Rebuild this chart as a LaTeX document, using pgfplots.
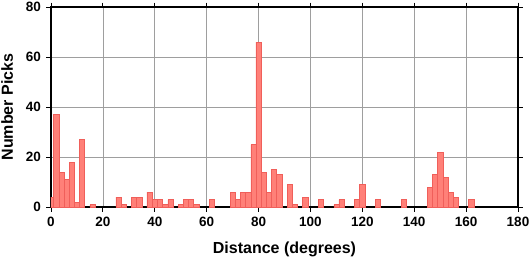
\documentclass[border=0pt]{standalone}
\usepackage{pgfplots}
\pgfplotsset{compat=1.18}
\usepackage{fontspec}
\setmainfont{Liberation Sans}
\definecolor{barfill}{RGB}{255,128,120}
\definecolor{baredge}{RGB}{240,95,90}
\begin{document}
\begin{tikzpicture}
\begin{axis}[
  scale only axis,
  width=467pt, height=200pt,
  xmin=0, xmax=180, ymin=0, ymax=80,
  xtick={0,20,...,180}, ytick={0,20,...,80},
  grid=major,
  major grid style={line width=0.6pt, draw=black!38},
  axis line style={line width=1.4pt, black},
  tick style={line width=0.8pt, black},
  tick align=outside,
  major tick length=4.5pt,
  xtick pos=both, ytick pos=both,
  xticklabel pos=lower, yticklabel pos=left,
  /pgf/number format/assume math mode=true,
  ticklabel style={font=\fontsize{13.5}{15}\selectfont\bfseries},
  yticklabel style={xshift=-2pt},
  xticklabel style={yshift=-2pt},
  xlabel={Distance (degrees)}, ylabel={Number Picks},
  label style={font=\fontsize{16}{18}\selectfont\bfseries},
  xlabel style={at={(axis description cs:0.5,-0.23)}, anchor=base},
  ylabel style={at={(axis description cs:-0.0814,0.5)}, anchor=base, rotate=0},
  clip=true,
]
\addplot[ybar, bar width=2, bar shift=0pt, fill=barfill, draw=baredge, line width=0.5pt] coordinates {
(0,4) (2,37) (4,14) (6,11) (8,18) (10,2) (12,27) (16,1) (26,4) (28,1)
(32,4) (34,4) (38,6) (40,3) (42,3) (44,1) (46,3) (50,1) (52,3) (54,3)
(56,1) (62,3) (70,6) (72,3) (74,6) (76,6) (78,25) (80,66) (82,14) (84,6)
(86,15) (88,13) (92,9) (94,1) (98,4) (104,3) (110,1) (112,3) (118,3) (120,9)
(126,3) (136,3) (146,8) (148,13) (150,22) (152,12) (154,6) (156,4) (162,3)
};
\coordinate (bl) at (rel axis cs:0,0);
\coordinate (tr) at (rel axis cs:1,1);
\end{axis}
\pgfresetboundingbox
\path ([shift={(-51pt,-51pt)}]bl) rectangle ([shift={(12pt,7pt)}]tr);
\end{tikzpicture}
\end{document}
